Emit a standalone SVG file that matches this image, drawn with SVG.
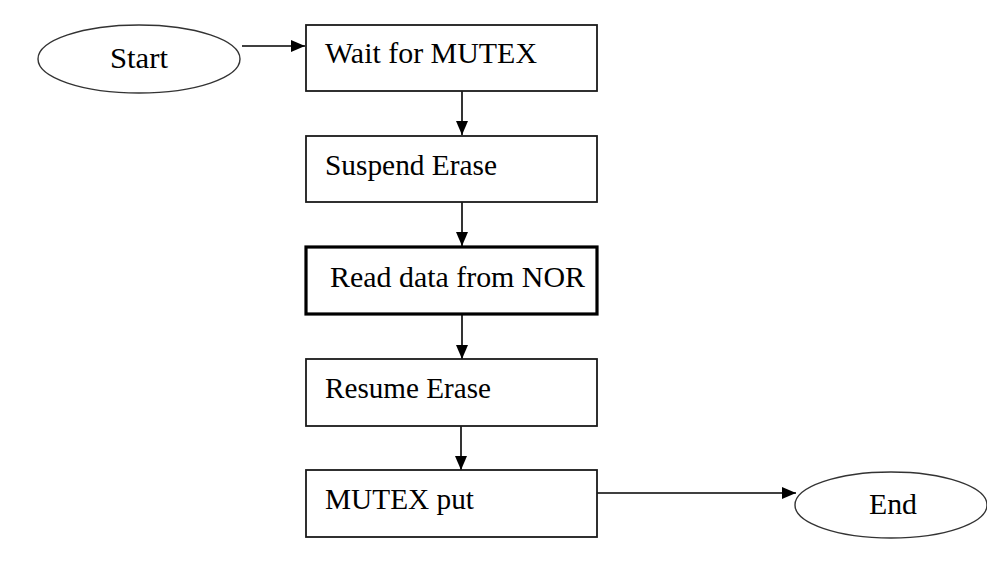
<svg xmlns="http://www.w3.org/2000/svg" width="987" height="573" viewBox="0 0 987 573">
<style>
.box{fill:#fff;stroke:#1a1a1a;stroke-width:1.8}
.thick{fill:#fff;stroke:#000;stroke-width:3.2}
.ell{fill:#fff;stroke:#333;stroke-width:1.4}
.t{font-family:"Liberation Serif","Times New Roman",serif;font-size:30px;fill:#000}
.c{stroke:#000;stroke-width:1.6;fill:none}
</style>
<defs>
<marker id="ah" viewBox="0 0 14 12" refX="14" refY="6" markerWidth="14" markerHeight="12" markerUnits="userSpaceOnUse" orient="auto">
<path d="M0,0 L14,6 L0,12 Z" fill="#000"/>
</marker>
</defs>
<rect width="987" height="573" fill="#fff"/>
<g id="connectors">
<line class="c" x1="242" y1="46" x2="305" y2="46" marker-end="url(#ah)"/>
<line class="c" x1="462" y1="91" x2="462" y2="135" marker-end="url(#ah)"/>
<line class="c" x1="462" y1="202" x2="462" y2="246" marker-end="url(#ah)"/>
<line class="c" x1="462" y1="314" x2="462" y2="359" marker-end="url(#ah)"/>
<line class="c" x1="461" y1="426" x2="461" y2="470" marker-end="url(#ah)"/>
<line class="c" x1="597" y1="493" x2="796" y2="493" marker-end="url(#ah)"/>
</g>
<g id="start">
<ellipse class="ell" cx="139" cy="59" rx="101" ry="34"/>
<text class="t" x="110" y="68" textLength="58" lengthAdjust="spacingAndGlyphs">Start</text>
</g>
<g id="wait">
<rect class="box" x="306" y="25" width="291" height="66"/>
<text class="t" x="325" y="63" textLength="212" lengthAdjust="spacingAndGlyphs">Wait for MUTEX</text>
</g>
<g id="suspend">
<rect class="box" x="306" y="136" width="291" height="66"/>
<text class="t" x="325" y="175" textLength="172" lengthAdjust="spacingAndGlyphs">Suspend Erase</text>
</g>
<g id="read">
<rect class="thick" x="306" y="247" width="291" height="67"/>
<text class="t" x="330" y="287" textLength="255" lengthAdjust="spacingAndGlyphs">Read data from NOR</text>
</g>
<g id="resume">
<rect class="box" x="306" y="359" width="291" height="67"/>
<text class="t" x="325" y="398" textLength="166" lengthAdjust="spacingAndGlyphs">Resume Erase</text>
</g>
<g id="mutexput">
<rect class="box" x="306" y="470" width="291" height="67"/>
<text class="t" x="325" y="509" textLength="149" lengthAdjust="spacingAndGlyphs">MUTEX put</text>
</g>
<g id="end">
<ellipse class="ell" cx="891" cy="505" rx="96" ry="33"/>
<text class="t" x="869" y="514" textLength="48" lengthAdjust="spacingAndGlyphs">End</text>
</g>
</svg>
